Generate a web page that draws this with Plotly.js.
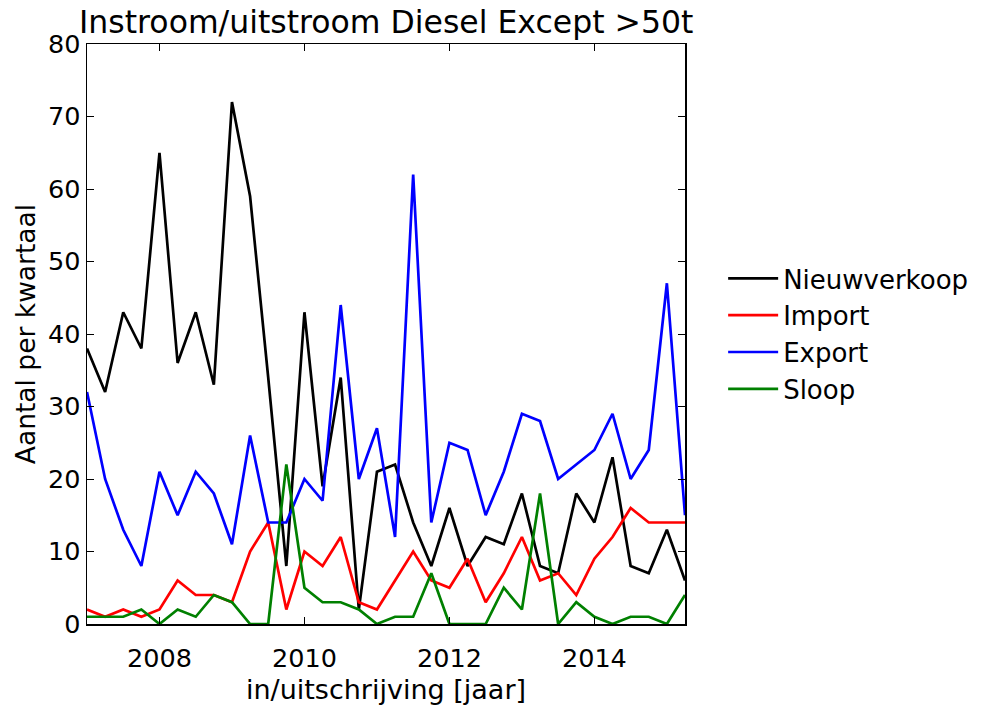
<!DOCTYPE html>
<html>
<head>
<meta charset="utf-8">
<script src="https://cdn.plot.ly/plotly-3.0.1.min.js"></script>
<style>html,body{margin:0;padding:0;background:#fff;}#chart{width:984px;height:709px;}</style>
</head>
<body>
<div id="chart"></div>
<script>
// Quarterly periods (year fractions) 2007 Q1 .. 2015 Q2
const quarters = [
  2007.00, 2007.25, 2007.50, 2007.75,
  2008.00, 2008.25, 2008.50, 2008.75,
  2009.00, 2009.25, 2009.50, 2009.75,
  2010.00, 2010.25, 2010.50, 2010.75,
  2011.00, 2011.25, 2011.50, 2011.75,
  2012.00, 2012.25, 2012.50, 2012.75,
  2013.00, 2013.25, 2013.50, 2013.75,
  2014.00, 2014.25, 2014.50, 2014.75,
  2015.00, 2015.25
];
const nieuwverkoop = [38, 32, 43, 38, 65, 36, 43, 33, 72, 59, 34, 8, 43, 19, 34, 2, 21, 22, 14, 8, 16, 8, 12, 11, 18, 8, 7, 18, 14, 23, 8, 7, 13, 6];
const importData   = [2, 1, 2, 1, 2, 6, 4, 4, 3, 10, 14, 2, 10, 8, 12, 3, 2, 6, 10, 6, 5, 9, 3, 7, 12, 6, 7, 4, 9, 12, 16, 14, 14, 14];
const exportData   = [32, 20, 13, 8, 21, 15, 21, 18, 11, 26, 14, 14, 20, 17, 44, 20, 27, 12, 62, 14, 25, 24, 15, 21, 29, 28, 20, 22, 24, 29, 20, 24, 47, 15];
const sloop        = [1, 1, 1, 2, 0, 2, 1, 4, 3, 0, 0, 22, 5, 3, 3, 2, 0, 1, 1, 7, 0, 0, 0, 5, 2, 18, 0, 3, 1, 0, 1, 1, 0, 4];

const seriesNames  = ['Nieuwverkoop', 'Import', 'Export', 'Sloop'];
const seriesColors = ['#000000', '#ff0000', '#0000ff', '#008000'];
const seriesValues = [nieuwverkoop, importData, exportData, sloop];

const xTickVals = [2008, 2010, 2012, 2014];
const xTickText = ['2008', '2010', '2012', '2014'];
const yTickVals = [0, 10, 20, 30, 40, 50, 60, 70, 80];

const FONT = 'DejaVu Sans, sans-serif';

const traces = seriesNames.map((name, i) => ({
  type: 'scatter',
  mode: 'lines',
  name: name,
  x: quarters,
  y: seriesValues[i],
  line: {color: seriesColors[i], width: 2.7},
  hoverinfo: 'x+y+name'
}));

const layout = {
  width: 984,
  height: 709,
  margin: {l: 87, r: 298, t: 44, b: 85, pad: 0},
  paper_bgcolor: '#ffffff',
  plot_bgcolor: '#ffffff',
  font: {family: FONT, color: '#000000', size: 25},
  title: {
    text: 'Instroom/uitstroom Diesel Except >50t',
    font: {family: FONT, size: 31.5, color: '#000000'},
    x: 0.3925, xanchor: 'center',
    y: 0.985, yanchor: 'top'
  },
  xaxis: {
    range: [2007, 2015.25],
    tickvals: xTickVals,
    ticktext: xTickText,
    ticks: 'inside',
    ticklen: 7,
    tickwidth: 1,
    tickcolor: '#000000',
    showline: true,
    linecolor: '#000000',
    linewidth: 1.5,
    mirror: 'ticks',
    showgrid: false,
    zeroline: false,
    tickfont: {family: FONT, size: 25.5, color: '#000000'},
    ticklabelstandoff: 11,
    title: {text: 'in/uitschrijving [jaar]', font: {family: FONT, size: 27, color: '#000000'}, standoff: 8}
  },
  yaxis: {
    range: [0, 80],
    tickvals: yTickVals,
    ticks: 'inside',
    ticklen: 7,
    tickwidth: 1,
    tickcolor: '#000000',
    showline: true,
    linecolor: '#000000',
    linewidth: 1.5,
    mirror: 'ticks',
    showgrid: false,
    zeroline: false,
    tickfont: {family: FONT, size: 25.5, color: '#000000'},
    ticklabelstandoff: 0,
    title: {text: 'Aantal per kwartaal', font: {family: FONT, size: 26.5, color: '#000000'}, standoff: 4}
  },
  showlegend: true,
  legend: {
    x: 1.062, xanchor: 'left',
    y: 0.5, yanchor: 'middle',
    font: {family: FONT, size: 26, color: '#000000'},
    bgcolor: 'rgba(0,0,0,0)',
    borderwidth: 0,
    itemwidth: 50,
    tracegroupgap: 0
  }
};

Plotly.newPlot('chart', traces, layout, {displayModeBar: false, staticPlot: true});
</script>
</body>
</html>
